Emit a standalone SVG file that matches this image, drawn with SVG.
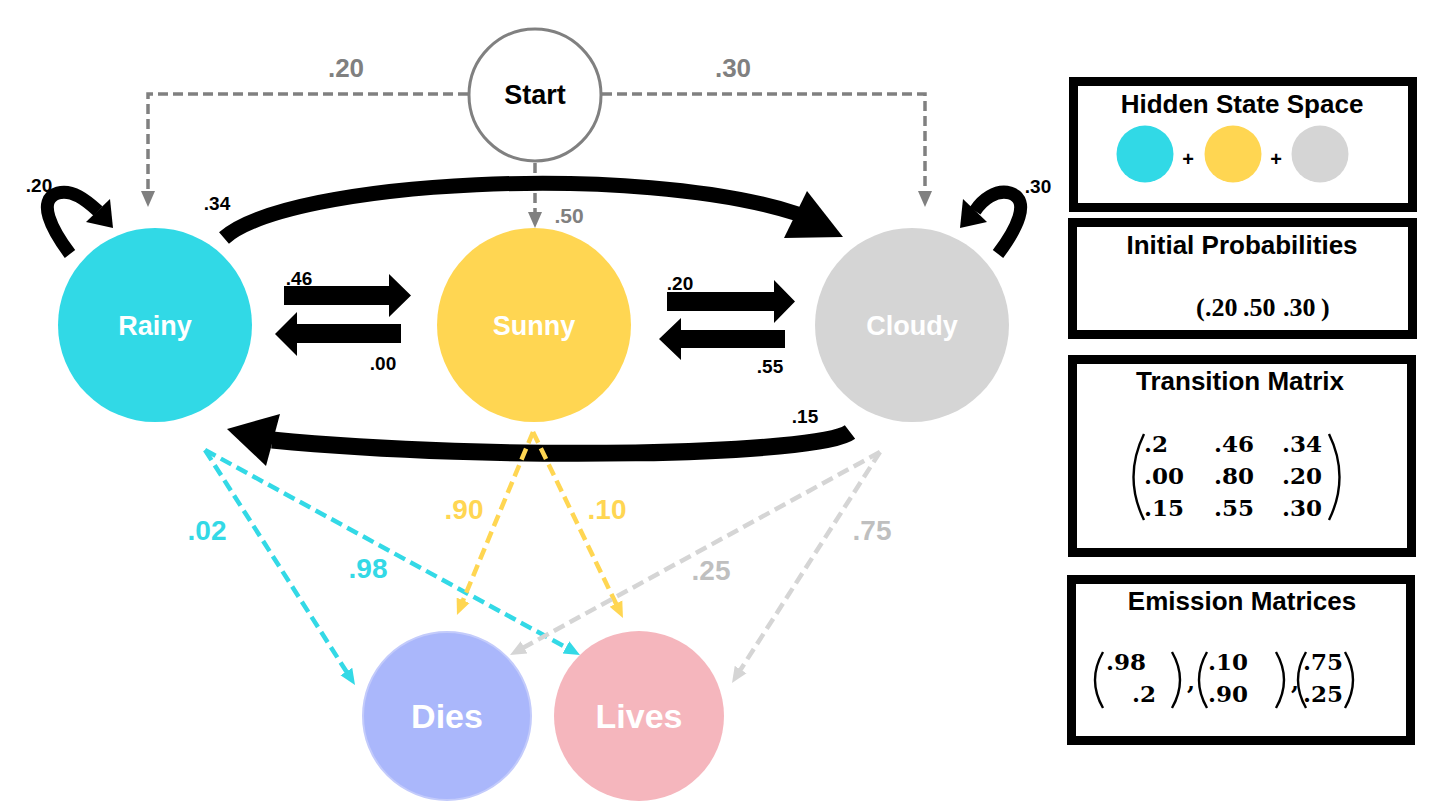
<svg xmlns="http://www.w3.org/2000/svg" width="1440" height="810" viewBox="0 0 1440 810">
<style>
.lbl{font-family:"Liberation Sans",Arial,sans-serif;font-weight:bold}
.node{font-family:"Liberation Sans",Arial,sans-serif;font-weight:bold;fill:#fff;text-anchor:middle}
.blk{fill:#000}
.math{font-family:"DejaVu Serif","Liberation Serif",serif;font-weight:bold;font-size:23px}
.box{fill:#fff;stroke:#000;stroke-width:9}
.paren{fill:none;stroke:#000;stroke-width:2.4}
</style>
<defs>
<marker id="mg" markerUnits="userSpaceOnUse" markerWidth="16" markerHeight="16" viewBox="0 0 16 16" refX="6" refY="8" orient="auto"><path d="M0,1 L16,8 L0,15 z" fill="#808080"/></marker>
<marker id="mc" markerUnits="userSpaceOnUse" markerWidth="16" markerHeight="16" viewBox="0 0 16 16" refX="6" refY="8" orient="auto"><path d="M0,1 L16,8 L0,15 z" fill="#33d9e6"/></marker>
<marker id="my" markerUnits="userSpaceOnUse" markerWidth="16" markerHeight="16" viewBox="0 0 16 16" refX="6" refY="8" orient="auto"><path d="M0,1 L16,8 L0,15 z" fill="#ffd652"/></marker>
<marker id="ml" markerUnits="userSpaceOnUse" markerWidth="16" markerHeight="16" viewBox="0 0 16 16" refX="6" refY="8" orient="auto"><path d="M0,1 L16,8 L0,15 z" fill="#d5d5d5"/></marker>
</defs>
<rect width="1440" height="810" fill="#fff"/>

<g id="node-start">
<circle cx="535" cy="95" r="66" fill="#fff" stroke="#808080" stroke-width="3"/>
<text x="535" y="104" class="lbl" font-size="27" text-anchor="middle" fill="#000">Start</text>
</g>
<g id="node-rainy">
<circle cx="155" cy="325" r="97" fill="#31d9e6"/>
<text x="155" y="335" class="node" font-size="27">Rainy</text>
</g>
<g id="node-sunny">
<circle cx="534" cy="325" r="97" fill="#ffd652"/>
<text x="534" y="335" class="node" font-size="27">Sunny</text>
</g>
<g id="node-cloudy">
<circle cx="912" cy="325" r="97" fill="#d5d5d5"/>
<text x="912" y="335" class="node" font-size="27">Cloudy</text>
</g>
<g id="node-dies">
<circle cx="447" cy="716" r="84" fill="#aab7fb" stroke="#c3cbfb" stroke-width="2"/>
<text x="447" y="728" class="node" font-size="34">Dies</text>
</g>
<g id="node-lives">
<circle cx="639" cy="716" r="85" fill="#f5b6bd"/>
<text x="639" y="728" class="node" font-size="34">Lives</text>
</g>

<g id="connectors">
<g fill="none" stroke="#808080" stroke-width="3.5" stroke-dasharray="10 5">
<path d="M468 94 H148 V197" marker-end="url(#mg)"/>
<path d="M602 94 H925 V197" marker-end="url(#mg)"/>
<path d="M535 163 V218" marker-end="url(#mg)"/>
</g>
<path d="M70 254 C52 230 36 200 58 193 C72 189 86 200 98 211" fill="none" stroke="#000" stroke-width="13"/>
<polygon points="110,199 86,222 113,228" class="blk"/>
<path d="M998 254 C1016 230 1032 200 1010 193 C996 189 982 200 975 211" fill="none" stroke="#000" stroke-width="13"/>
<polygon points="963,199 987,222 960,228" class="blk"/>
<path d="M224 238 C290 180 640 162 798 214" fill="none" stroke="#000" stroke-width="15"/>
<polygon points="807,191 843,237 784,238" class="blk"/>
<path d="M850 432 C820 455 500 462 272 440" fill="none" stroke="#000" stroke-width="17"/>
<polygon points="280,414 227,429 266,466" class="blk"/>
<polygon points="284,286 389,286 389,274 411,295.5 389,317 389,305 284,305" class="blk"/>
<polygon points="401,324 297,324 297,312 275,334 297,356 297,343 401,343" class="blk"/>
<polygon points="667,292 774,292 774,280 795,301.5 774,323 774,311 667,311" class="blk"/>
<polygon points="785,330 681,330 681,318 659,339 681,360 681,348 785,348" class="blk"/>
<g fill="none" stroke-width="4.5" stroke-dasharray="12 6">
<path d="M205 450 L349.6 676.6" stroke="#33d9e6" marker-end="url(#mc)"/>
<path d="M205 450 L571.2 650.2" stroke="#33d9e6" marker-end="url(#mc)"/>
<path d="M533 432 L460.8 605.8" stroke="#ffd652" marker-end="url(#my)"/>
<path d="M533 432 L618.6 609" stroke="#ffd652" marker-end="url(#my)"/>
<path d="M880 452 L518.8 650.2" stroke="#d5d5d5" marker-end="url(#ml)"/>
<path d="M880 452 L737.4 674.6" stroke="#d5d5d5" marker-end="url(#ml)"/>
</g>
</g>

<g id="labels">
<g class="lbl" fill="#808080" text-anchor="middle">
<text x="346" y="77" font-size="26">.20</text>
<text x="733" y="77" font-size="26">.30</text>
<text x="569" y="223" font-size="21">.50</text>
</g>
<g class="lbl" fill="#000" text-anchor="middle" font-size="19">
<text x="39" y="192">.20</text>
<text x="217" y="210">.34</text>
<text x="1038" y="193">.30</text>
<text x="299" y="285">.46</text>
<text x="383" y="370">.00</text>
<text x="680" y="290">.20</text>
<text x="770" y="373">.55</text>
<text x="805" y="423">.15</text>
</g>
<g class="lbl" text-anchor="middle" font-size="28">
<text x="207" y="540" fill="#33d9e6">.02</text>
<text x="368" y="578" fill="#33d9e6">.98</text>
<text x="464" y="519" fill="#ffd652">.90</text>
<text x="607" y="519" fill="#ffd652">.10</text>
<text x="711" y="580" fill="#bfbfbf">.25</text>
<text x="872" y="540" fill="#bfbfbf">.75</text>
</g>
</g>

<g id="panel-hidden">
<rect x="1073.5" y="81.5" width="339" height="126" class="box"/>
<text x="1242" y="113" class="lbl" font-size="26" text-anchor="middle">Hidden State Space</text>
<circle cx="1145" cy="154" r="28.5" fill="#31d9e6"/>
<circle cx="1233" cy="154" r="28.5" fill="#ffd652"/>
<circle cx="1320" cy="154" r="28.5" fill="#d5d5d5"/>
<text x="1188" y="166" class="lbl" font-size="20" text-anchor="middle">+</text>
<text x="1276" y="166" class="lbl" font-size="20" text-anchor="middle">+</text>
</g>
<g id="panel-initial">
<rect x="1072.5" y="222.5" width="340" height="112" class="box"/>
<text x="1242" y="254" class="lbl" font-size="26" text-anchor="middle">Initial Probabilities</text>
<text y="316" font-family="'Liberation Serif',serif" font-weight="bold" font-size="26"><tspan x="1196">(</tspan><tspan x="1205">.20</tspan><tspan x="1243">.50</tspan><tspan x="1283">.30</tspan><tspan x="1321">)</tspan></text>
</g>
<g id="panel-transition">
<rect x="1072.5" y="359.5" width="339" height="193" class="box"/>
<text x="1240" y="390" class="lbl" font-size="26" text-anchor="middle">Transition Matrix</text>
<path d="M1144 434 Q1123 477 1144 520" class="paren"/>
<path d="M1329 434 Q1350 477 1329 520" class="paren"/>
<g class="math">
<text x="1144" y="452">.2</text>
<text x="1214" y="452">.46</text>
<text x="1282" y="452">.34</text>
<text x="1144" y="484">.00</text>
<text x="1214" y="484">.80</text>
<text x="1282" y="484">.20</text>
<text x="1144" y="516">.15</text>
<text x="1214" y="516">.55</text>
<text x="1282" y="516">.30</text>
</g>
</g>
<g id="panel-emission">
<rect x="1071.5" y="579.5" width="339" height="161" class="box"/>
<text x="1242" y="610" class="lbl" font-size="26" text-anchor="middle">Emission Matrices</text>
<path d="M1103 652 Q1087 680 1103 708" class="paren"/>
<path d="M1172 652 Q1188 680 1172 708" class="paren"/>
<path d="M1207 652 Q1191 680 1207 708" class="paren"/>
<path d="M1276 652 Q1292 680 1276 708" class="paren"/>
<path d="M1306 652 Q1290 680 1306 708" class="paren"/>
<path d="M1345 652 Q1361 680 1345 708" class="paren"/>
<g class="math">
<text x="1106" y="670">.98</text>
<text x="1132" y="702">.2</text>
<text x="1208" y="670">.10</text>
<text x="1208" y="702">.90</text>
<text x="1303" y="670">.75</text>
<text x="1303" y="702">.25</text>
<text x="1187" y="690">,</text>
<text x="1291" y="690">,</text>
</g>
</g>
</svg>
